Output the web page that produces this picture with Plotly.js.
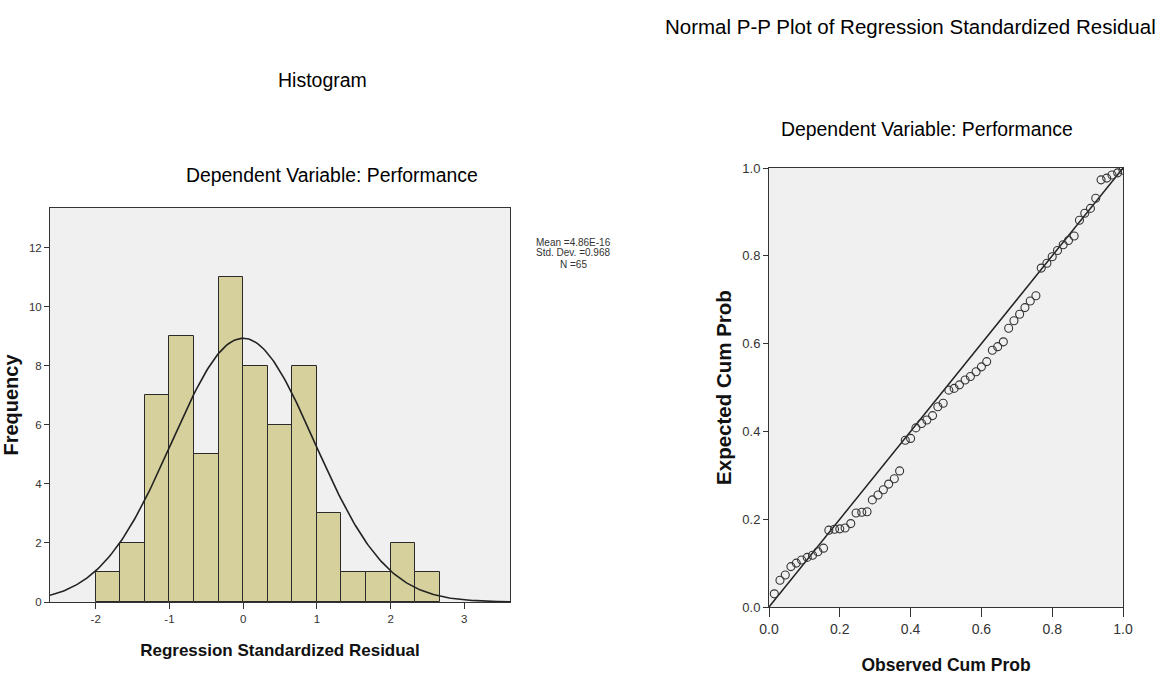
<!DOCTYPE html>
<html>
<head>
<meta charset="utf-8">
<script src="https://cdn.plot.ly/plotly-3.0.1.min.js"></script>
<style>html,body{margin:0;padding:0;background:#fff;}#chart{width:1167px;height:677px;}</style>
</head>
<body>
<div id="chart"></div>
<script>
// ---- Histogram data (bin start, width 1/3) ----
const binStarts = [-2, -1.6667, -1.3333, -1, -0.6667, -0.3333, 0, 0.3333, 0.6667, 1, 1.3333, 1.6667, 2, 2.3333];
const binCounts = [1, 2, 7, 9, 5, 11, 8, 6, 8, 3, 1, 1, 2, 1];
const binWidth = 1 / 3;

// ---- Summary statistics shown on the chart ----
const statMean = 4.86e-16;
const statSD = 0.968;
const statN = 65;
const statLines = ["Mean =4.86E-16", "Std. Dev. =0.968", "N =65"];

// ---- P-P plot data ----
const observedCumProb = [0.015,0.031,0.046,0.062,0.077,0.092,0.108,0.123,0.138,0.154,
  0.169,0.185,0.200,0.215,0.231,0.246,0.262,0.277,0.292,0.308,0.323,0.338,0.354,0.369,0.385,
  0.400,0.415,0.431,0.446,0.462,0.477,0.492,
  0.508,0.523,0.538,0.554,0.569,0.585,0.600,0.615,0.631,0.646,0.662,0.677,0.692,0.708,0.723,0.738,0.754,
  0.769,0.785,0.800,0.815,0.831,0.846,0.862,
  0.877,0.892,0.908,0.923,
  0.938,0.954,0.969,0.985,1.000];
const expectedCumProb = [0.030,0.061,0.073,0.092,0.100,0.107,0.113,0.118,0.126,0.134,
  0.175,0.177,0.178,0.180,0.190,0.214,0.216,0.217,0.244,0.255,0.267,0.280,0.292,0.310,0.380,
  0.384,0.408,0.418,0.426,0.436,0.456,0.464,
  0.494,0.498,0.506,0.517,0.525,0.536,0.547,0.559,0.585,0.593,0.604,0.635,0.652,0.667,0.682,0.697,0.709,
  0.772,0.783,0.798,0.812,0.825,0.835,0.845,
  0.881,0.897,0.908,0.931,
  0.973,0.977,0.984,0.989,0.995];
const refLine = [0, 1];

// ---- Tick labels ----
const histXTicks = [-2, -1, 0, 1, 2, 3];
const histXTickText = ["-2", "-1", "0", "1", "2", "3"];
const histYTicks = [0, 2, 4, 6, 8, 10, 12];
const ppTicks = [0, 0.2, 0.4, 0.6, 0.8, 1.0];
const ppTickText = ["0.0", "0.2", "0.4", "0.6", "0.8", "1.0"];

// ---- Normal curve defined by the stated mean / SD / N ----
const histRange = [-2.62, 3.62];
const curveX = [], curveY = [];
for (let i = 0; i <= 250; i++) {
  const x = histRange[0] + (histRange[1] - histRange[0]) * i / 250;
  const z = (x - statMean) / statSD;
  curveX.push(x);
  curveY.push(statN * binWidth * Math.exp(-0.5 * z * z) / (statSD * Math.sqrt(2 * Math.PI)));
}
const binCenters = binStarts.map(s => s + binWidth / 2);

const W = 1167, H = 677;
const px = x => x / W, py = y => 1 - y / H;
const FONT = "Liberation Sans, Arial, sans-serif";

const traces = [
  {type: "bar", x: binCenters, y: binCounts, width: binWidth, xaxis: "x", yaxis: "y",
   marker: {color: "#d6d09c", line: {color: "#2a2a2a", width: 1}}, hoverinfo: "x+y"},
  {type: "scatter", mode: "lines", x: curveX, y: curveY, xaxis: "x", yaxis: "y",
   line: {color: "#222", width: 1.6}, hoverinfo: "skip"},
  {type: "scatter", mode: "lines", x: refLine, y: refLine, xaxis: "x2", yaxis: "y2",
   line: {color: "#222", width: 1.5}, hoverinfo: "skip"},
  {type: "scatter", mode: "markers", x: observedCumProb, y: expectedCumProb, xaxis: "x2", yaxis: "y2",
   marker: {symbol: "circle-open", size: 8, color: "#333", line: {width: 1.1, color: "#333"}}}
];

const axisCommon = {showgrid: false, zeroline: false, showline: true, mirror: true,
  linecolor: "#333", linewidth: 1, ticks: "outside", ticklen: 5, tickcolor: "#333",
  tickfont: {family: FONT, size: 11.5, color: "#333"}, fixedrange: true};

const layout = {
  width: W, height: H, showlegend: false,
  margin: {l: 0, r: 0, t: 0, b: 0},
  paper_bgcolor: "#ffffff", plot_bgcolor: "#f0f0f0",
  font: {family: FONT, color: "#222"},
  bargap: 0,
  xaxis: Object.assign({}, axisCommon, {domain: [px(50), px(510)], anchor: "y",
    range: histRange, tickvals: histXTicks, ticktext: histXTickText, ticklen: 6,
    title: {text: "Regression Standardized Residual", standoff: 20,
            font: {family: FONT, size: 17, color: "#111", weight: "bold"}}}),
  yaxis: Object.assign({}, axisCommon, {domain: [py(602), py(208)], anchor: "x",
    range: [0, 13.34], tickvals: histYTicks,
    title: {text: "Frequency", standoff: 7,
            font: {family: FONT, size: 20, color: "#111", weight: "bold"}}}),
  xaxis2: Object.assign({}, axisCommon, {domain: [px(769), px(1123)], anchor: "y2",
    range: [0, 1], tickvals: ppTicks, ticktext: ppTickText, ticklen: 9,
    tickfont: {family: FONT, size: 14, color: "#333"},
    title: {text: "Observed Cum Prob", standoff: 22,
            font: {family: FONT, size: 17.5, color: "#111", weight: "bold"}}}),
  yaxis2: Object.assign({}, axisCommon, {domain: [py(607), py(168)], anchor: "x2",
    range: [0, 1], tickvals: ppTicks, ticktext: ppTickText, ticklen: 5,
    tickfont: {family: FONT, size: 13, color: "#333"},
    title: {text: "Expected Cum Prob", standoff: 5,
            font: {family: FONT, size: 20.5, color: "#111", weight: "bold"}}}),
  annotations: [
    {text: "Histogram", x: px(322), y: py(80), xref: "paper", yref: "paper", showarrow: false,
     xanchor: "center", yanchor: "middle", font: {family: FONT, size: 19.5, color: "#000"}},
    {text: "Dependent Variable: Performance", x: px(332), y: py(175), xref: "paper", yref: "paper", showarrow: false,
     xanchor: "center", yanchor: "middle", font: {family: FONT, size: 19.4, color: "#000"}},
    {text: "Normal P-P Plot of Regression Standardized Residual", x: px(910), y: py(26), xref: "paper", yref: "paper", showarrow: false,
     xanchor: "center", yanchor: "middle", font: {family: FONT, size: 20.5, color: "#000"}},
    {text: "Dependent Variable: Performance", x: px(927), y: py(129), xref: "paper", yref: "paper", showarrow: false,
     xanchor: "center", yanchor: "middle", font: {family: FONT, size: 19.4, color: "#000"}}
  ].concat(statLines.map((t, i) => ({text: t, x: px(573), y: py(242 + 11 * i), xref: "paper", yref: "paper",
     showarrow: false, xanchor: "center", yanchor: "middle", font: {family: FONT, size: 10, color: "#333"}})))
};

Plotly.newPlot("chart", traces, layout, {displayModeBar: false});
</script>
</body>
</html>
